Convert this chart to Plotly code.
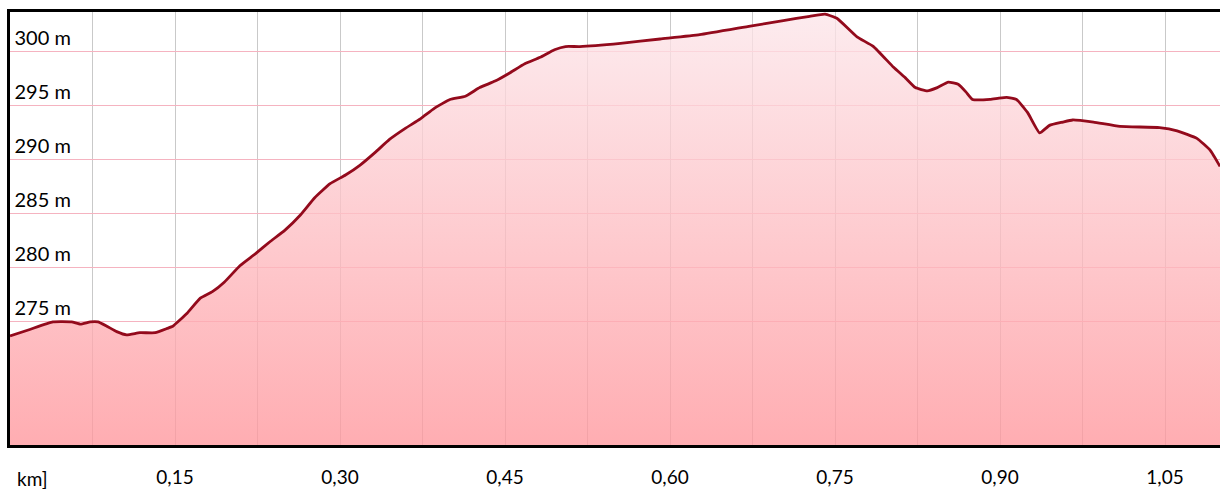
import plotly.graph_objects as go

# elevation profile
distance_km = [
    0.000, 0.018, 0.039, 0.056, 0.064, 0.073, 0.080, 0.088, 0.097, 0.106,
    0.118, 0.132, 0.143, 0.148, 0.161, 0.173, 0.184, 0.195, 0.209, 0.223,
    0.236, 0.250, 0.264, 0.277, 0.291, 0.305, 0.318, 0.332, 0.345, 0.359,
    0.373, 0.386, 0.400, 0.414, 0.427, 0.441, 0.455, 0.468, 0.482, 0.495,
    0.505, 0.518, 0.555, 0.591, 0.627, 0.673, 0.703, 0.727, 0.741, 0.752,
    0.770, 0.785, 0.803, 0.814, 0.823, 0.834, 0.843, 0.853, 0.862, 0.869,
    0.875, 0.891, 0.898, 0.906, 0.915, 0.925, 0.936, 0.945, 0.957, 0.966,
    0.985, 1.009, 1.045, 1.061, 1.079, 1.091, 1.100,
]
elevation_m = [
    273.7, 274.3, 275.0, 275.0, 274.8, 275.0, 275.0, 274.6, 274.1, 273.8,
    274.0, 274.0, 274.4, 274.6, 275.8, 277.2, 277.8, 278.7, 280.2, 281.3,
    282.4, 283.5, 284.9, 286.5, 287.8, 288.6, 289.5, 290.7, 291.9, 292.9,
    293.8, 294.8, 295.6, 295.9, 296.7, 297.3, 298.1, 298.9, 299.5, 300.2,
    300.5, 300.5, 300.8, 301.2, 301.6, 302.4, 302.9, 303.3, 303.5, 303.1,
    301.4, 300.5, 298.6, 297.6, 296.7, 296.4, 296.7, 297.2, 297.0, 296.3,
    295.6, 295.6, 295.7, 295.8, 295.6, 294.4, 292.5, 293.2, 293.5, 293.7,
    293.5, 293.1, 293.0, 292.7, 292.0, 290.9, 289.4,
]

y_ticks = [275, 280, 285, 290, 295, 300]
y_tick_labels = ['275 m', '280 m', '285 m', '290 m', '295 m', '300 m']
x_ticks = [0.15, 0.30, 0.45, 0.60, 0.75, 0.90, 1.05]
x_tick_labels = ['0,15', '0,30', '0,45', '0,60', '0,75', '0,90', '1,05']

Y_MIN, Y_MAX = 263.6, 303.7
FONT = dict(family='Lato', size=19, color='black')
Y_FONT = dict(family='Lato', size=20, color='black')

fig = go.Figure()
fig.add_trace(
    go.Scatter(
        x=distance_km,
        y=elevation_m,
        mode='lines',
        line=dict(color='#930a1c', width=2.8, shape='spline', smoothing=0.4),
        fill='tozeroy',
        fillgradient=dict(
            type='vertical',
            start=Y_MIN,
            stop=Y_MAX,
            colorscale=[
                [0.0, 'rgba(255,150,156,0.78)'],
                [1.0, 'rgba(252,230,234,0.78)'],
            ],
        ),
        hoverinfo='x+y',
    )
)

fig.update_layout(
    width=1220,
    height=489,
    paper_bgcolor='white',
    plot_bgcolor='white',
    showlegend=False,
    font=FONT,
    margin=dict(l=10, r=0, t=12, b=44, autoexpand=False),
    xaxis=dict(
        range=[0, 1.1],
        tickvals=x_ticks,
        ticktext=x_tick_labels,
        tickfont=FONT,
        ticks='',
        showgrid=True,
        gridcolor='#c9c9c9',
        gridwidth=1,
        minor=dict(dtick=0.075, tick0=0, showgrid=True, gridcolor='#c9c9c9', gridwidth=1),
        showline=True,
        linecolor='black',
        linewidth=3,
        mirror=True,
        zeroline=False,
        automargin=False,
        ticklabelstandoff=13,
    ),
    yaxis=dict(
        range=[Y_MIN, Y_MAX],
        tickvals=y_ticks,
        ticktext=y_tick_labels,
        tickfont=Y_FONT,
        ticklabelposition='inside top',
        ticklabelstandoff=4,
        ticks='',
        showgrid=True,
        gridcolor='#f5b3c0',
        gridwidth=1,
        showline=True,
        linecolor='black',
        linewidth=3,
        zeroline=False,
        automargin=False,
    ),
)

fig.add_annotation(
    text='km]',
    xref='paper', yref='paper',
    x=0, y=0,
    xanchor='left', yanchor='middle',
    xshift=5, yshift=-33,
    showarrow=False,
    font=FONT,
)

fig.write_html(
    "out.html",
    config={'displayModeBar': False},
    post_script="document.body.style.margin='0';",
)
